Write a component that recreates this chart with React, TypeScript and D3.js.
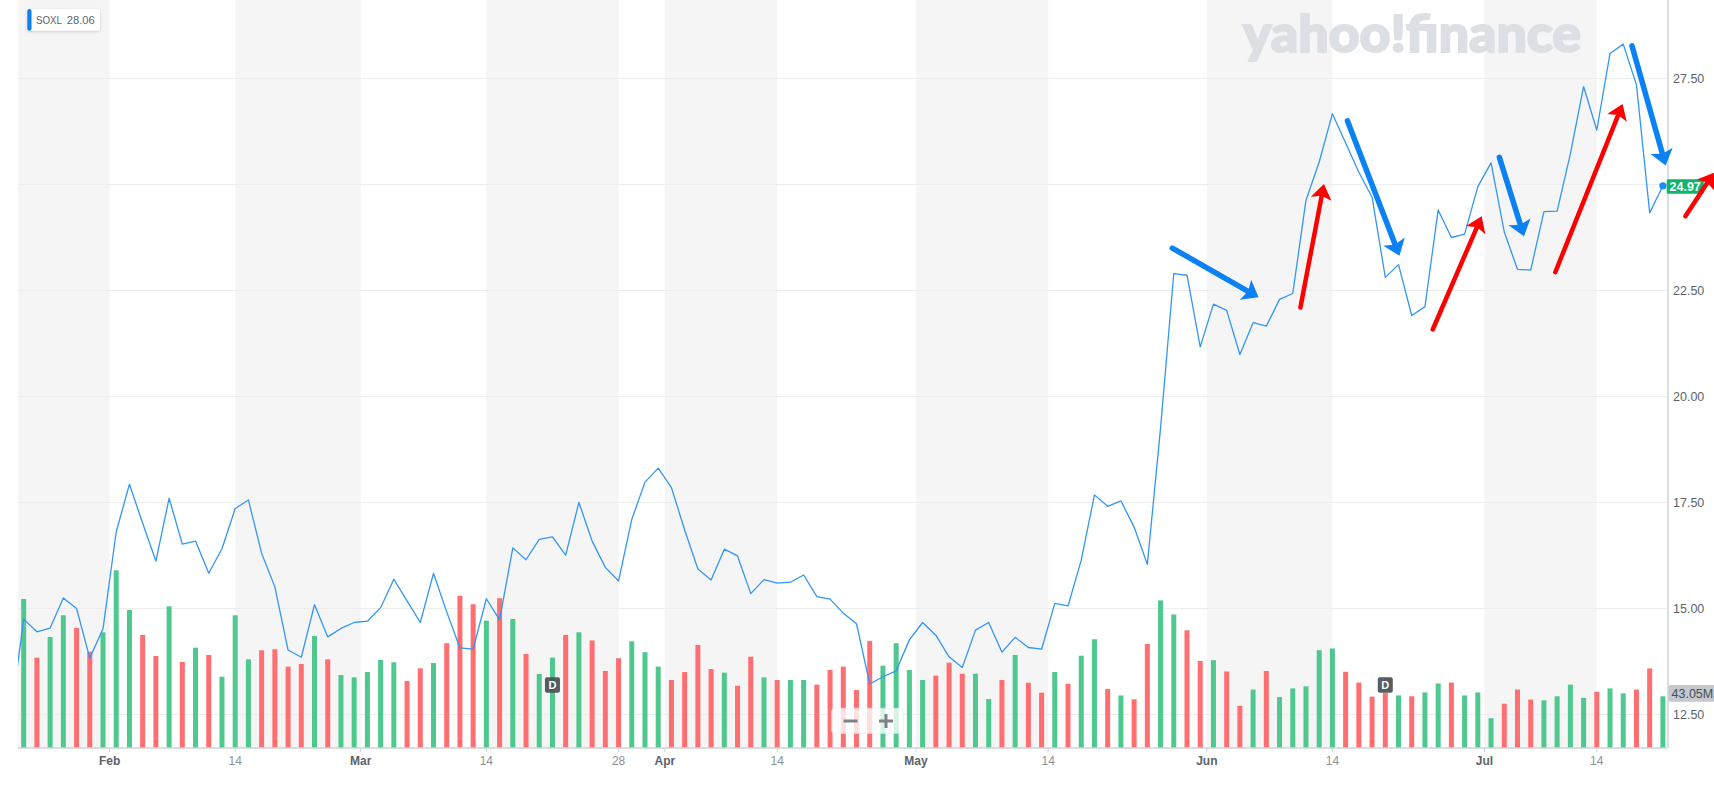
import React from "react";
import * as d3 from "d3";

// ---------- data (SOXL daily, Jan 23 – Jul 21 2023; one value per trading day) ----------
const ticker = "SOXL";
const legendValue = "28.06";
const priorClose = 12.41; // Jan 20 (left of the visible range, clipped)
const closes = [
  14.75, 14.45, 14.54, 15.25, 15.0, 13.83, 14.52, 16.81, 17.93, 17.01,
  16.12, 17.6, 16.52, 16.59, 15.83, 16.41, 17.36, 17.56, 16.3, 15.51,
  14.02, 13.85, 15.09, 14.33, 14.53, 14.67, 14.7, 15.02, 15.69, 15.18,
  14.67, 15.83, 14.92, 14.07, 14.04, 15.23, 14.73, 16.43, 16.15, 16.63,
  16.69, 16.26, 17.5, 16.59, 15.97, 15.65, 17.1, 17.98, 18.31, 17.85,
  16.85, 15.93, 15.67, 16.4, 16.24, 15.35, 15.68, 15.6, 15.62, 15.79,
  15.28, 15.22, 14.89, 14.64, 13.22, 13.39, 13.53, 14.26, 14.67, 14.37,
  13.86, 13.61, 14.49, 14.67, 13.97, 14.32, 14.08, 14.04, 15.12, 15.06,
  16.14, 17.68, 17.41, 17.54, 16.92, 16.04, 19.26, 22.9, 22.86, 21.17,
  22.18, 22.03, 20.99, 21.74, 21.66, 22.29, 22.43, 24.63, 25.53, 26.67,
  25.98, 25.29, 24.7, 22.81, 23.11, 21.91, 22.12, 24.4, 23.75, 23.83,
  24.95, 25.51, 23.88, 23.0, 22.98, 24.36, 24.37, 25.72, 27.31, 26.28,
  28.09, 28.31, 27.35, 24.33, 24.97,
];
// volume in millions
const volumes = [
  124.2, 75.3, 92.5, 110.6, 100.0, 80.3, 96.4, 148.1, 115.0, 94.2,
  76.7, 118.1, 71.7, 83.6, 77.5, 59.4, 110.6, 73.9, 81.4, 82.3,
  67.8, 70.0, 93.3, 73.9, 60.8, 58.9, 63.3, 73.3, 71.4, 55.8,
  66.4, 70.8, 87.3, 126.9, 119.8, 106.1, 124.8, 107.5, 78.3, 61.7,
  75.3, 94.2, 96.4, 89.6, 64.2, 74.8, 88.9, 79.8, 67.8, 56.7,
  63.3, 85.8, 65.8, 62.8, 51.9, 76.1, 58.9, 56.7, 56.7, 56.7,
  52.8, 65.0, 67.8, 48.3, 89.2, 68.6, 87.3, 65.0, 56.7, 60.3,
  71.1, 61.9, 61.9, 40.8, 56.7, 77.5, 54.4, 46.1, 63.3, 53.6,
  76.9, 90.6, 49.2, 43.8, 40.6, 86.7, 123.0, 111.3, 98.1, 72.5,
  73.2, 63.8, 35.2, 48.7, 64.2, 42.4, 49.7, 51.4, 81.5, 82.9,
  63.5, 54.5, 42.8, 45.8, 43.8, 43.1, 46.3, 53.8, 54.5, 43.8,
  46.3, 24.8, 36.9, 48.7, 40.3, 39.7, 43.1, 52.8, 41.8, 46.9,
  49.7, 45.5, 48.7, 66.3, 43.05,
];
const lastVolumeLabel = "43.05M";

// x-axis ticks, in trading-day index (0 = Jan 23)
const xTickLabels = ["Feb", "14", "Mar", "14", "28", "Apr", "14", "May", "14", "Jun", "14", "Jul", "14"];
const xTickIdx = [6.5, 16, 25.5, 35, 45, 48.5, 57, 67.5, 77.5, 89.5, 99, 110.5, 119];
const xTickIsMonth = [true, false, true, false, false, true, false, true, false, true, false, true, false];

const yTicks = [12.5, 15, 17.5, 20, 22.5, 25, 27.5];

// dividend markers (trading-day index)
const dividendIdx = [40, 103];

// hand-drawn annotation arrows (start / tip in [trading-day index, price])
const arrowColor = ["blue", "red", "blue", "red", "blue", "red", "blue", "red"];
const arrowFrom = [
  [86.89, 23.5], [96.58, 22.1], [100.14, 26.5], [106.59, 21.58],
  [111.63, 25.64], [115.86, 22.93], [121.66, 28.27], [125.7, 24.25],
];
const arrowTo = [
  [93.41, 22.34], [98.36, 25.01], [104.07, 23.32], [110.29, 24.25],
  [113.49, 23.78], [120.95, 26.9], [124.21, 25.45], [127.86, 25.28],
];

// ---------- component ----------
const W = 1714;
const H = 791;
const PLOT_L = 18;
const PLOT_R = 1667;
const AXIS_Y = 748;
const FONT = "'Liberation Sans', Arial, Helvetica, sans-serif";
const UP = "#4fc88f";
const DOWN = "#ff6f71";
const LINE = "#3396f4";

function arrowShape(x1: number, y1: number, x2: number, y2: number, w: number, L: number, hw: number) {
  const dx = x2 - x1;
  const dy = y2 - y1;
  const len = Math.hypot(dx, dy);
  const ux = dx / len;
  const uy = dy / len;
  const px = -uy;
  const py = ux;
  const bx = x2 - ux * L;
  const by = y2 - uy * L;
  const nx = bx + ux * L * 0.2;
  const ny = by + uy * L * 0.2;
  const head = [
    [x2, y2],
    [bx + px * hw, by + py * hw],
    [nx, ny],
    [bx - px * hw, by - py * hw],
  ];
  return {
    shaft: { x1, y1, x2: bx + ux * L * 0.4, y2: by + uy * L * 0.4, w },
    head: head.map((p) => p.join(",")).join(" "),
  };
}

export default function App() {
  const x = d3.scaleLinear().domain([-0.43, 124.31]).range([PLOT_L, PLOT_R]);
  const y = d3.scaleLinear().domain([12.5, 27.5]).range([714.5, 78.5]);
  const yv = d3.scaleLinear().domain([0, 100]).range([AXIS_Y, AXIS_Y - 120]);

  const pts: [number, number][] = [[-1, priorClose], ...closes.map((c, i) => [i, c] as [number, number])];
  const linePath = d3
    .line<[number, number]>()
    .x((d) => x(d[0]))
    .y((d) => y(d[1]))(pts) as string;

  const edges = [x.domain()[0], ...xTickIdx, x.domain()[1]];
  const bands = edges.slice(0, -1).map((e, i) => ({ x0: x(e), x1: x(edges[i + 1]), gray: i % 2 === 0 }));

  const barW = 5;
  const lastIdx = closes.length - 1;
  const lastClose = closes[lastIdx];
  const priceLabelY = y(lastClose);

  return (
    <div style={{ position: "absolute", left: 0, top: 0 }}>
      <svg width={W} height={H} style={{ display: "block", background: "#fff" }}>
        <defs>
          <clipPath id="plotClip">
            <rect x={PLOT_L} y={0} width={PLOT_R - PLOT_L} height={AXIS_Y} />
          </clipPath>
          <filter id="shadow" x="-20%" y="-40%" width="140%" height="180%">
            <feDropShadow dx="0" dy="1" stdDeviation="1.5" floodColor="#000" floodOpacity="0.18" />
          </filter>
        </defs>

        {/* alternating bands */}
        {bands.map((b, i) =>
          b.gray ? <rect key={i} x={b.x0} y={0} width={b.x1 - b.x0} height={AXIS_Y} fill="#f5f5f5" /> : null
        )}

        {/* gridlines */}
        {yTicks.map((t) => (
          <line key={t} x1={PLOT_L} x2={PLOT_R} y1={y(t)} y2={y(t)} stroke="#ededed" strokeWidth={1} />
        ))}

        {/* watermark */}
        <text
          x={1243}
          y={51.7}
          fontFamily="Lato, 'Open Sans', sans-serif"
          fontWeight={900}
          fontSize={52}
          fill="#dcdfe3"
          stroke="#dcdfe3"
          strokeWidth={2}
          textLength={338}
          lengthAdjust="spacingAndGlyphs"
        >
          yahoo!finance
        </text>

        {/* volume bars */}
        {volumes.map((v, i) => {
          const prev = i === 0 ? priorClose : closes[i - 1];
          const up = closes[i] >= prev;
          return (
            <rect
              key={i}
              x={x(i) - barW / 2}
              y={yv(v)}
              width={barW}
              height={AXIS_Y - yv(v)}
              fill={up ? UP : DOWN}
            />
          );
        })}

        {/* price line */}
        <g clipPath="url(#plotClip)">
          <path d={linePath} fill="none" stroke={LINE} strokeWidth={1.3} strokeLinejoin="round" />
        </g>
        <circle cx={x(lastIdx)} cy={priceLabelY} r={3.6} fill="#1a8cff" />

        {/* dividend markers */}
        {dividendIdx.map((d) => (
          <g key={d}>
            <rect x={x(d) - 7.5} y={677.3} width={15} height={15.4} rx={2} fill="#464e56" opacity={0.92} />
            <text
              x={x(d)}
              y={689.3}
              textAnchor="middle"
              fontFamily={FONT}
              fontWeight={700}
              fontSize={11}
              fill="#fff"
            >
              D
            </text>
          </g>
        ))}

        {/* zoom control */}
        <g>
          <rect x={831.7} y={708.3} width={71.6} height={25} rx={3} fill="#ffffff" opacity={0.78} stroke="#eceef0" />
          <line x1={843.5} x2={857.5} y1={721} y2={721} stroke="#7d8287" strokeWidth={3} />
          <line x1={867.7} x2={867.7} y1={712} y2={730} stroke="#e3e5e8" strokeWidth={1} />
          <line x1={879} x2={893} y1={721} y2={721} stroke="#7d8287" strokeWidth={3} />
          <line x1={886} x2={886} y1={714} y2={728} stroke="#7d8287" strokeWidth={3} />
        </g>

        {/* x axis */}
        <line x1={PLOT_L} x2={PLOT_R} y1={AXIS_Y} y2={AXIS_Y} stroke="#cfd3d7" strokeWidth={1.5} />
        {xTickIdx.map((t, i) => (
          <g key={i}>
            <line x1={x(t)} x2={x(t)} y1={AXIS_Y} y2={AXIS_Y + 4} stroke="#cfd3d7" strokeWidth={1} />
            <text
              x={x(t)}
              y={765}
              textAnchor="middle"
              fontFamily={FONT}
              fontSize={12}
              fontWeight={xTickIsMonth[i] ? 700 : 400}
              fill={xTickIsMonth[i] ? "#5b636a" : "#8a9299"}
            >
              {xTickLabels[i]}
            </text>
          </g>
        ))}

        {/* right axis (labels hidden where the current-price tag sits, as in the source) */}
        <line x1={PLOT_R + 1} x2={PLOT_R + 1} y1={0} y2={AXIS_Y} stroke="#dcdfe2" strokeWidth={2} />
        {yTicks
          .filter((t) => Math.abs(y(t) - priceLabelY) > 12)
          .map((t) => (
            <text key={t} x={1673} y={y(t) + 4.5} fontFamily={FONT} fontSize={12.5} fill="#5b636a">
              {t.toFixed(2)}
            </text>
          ))}

        {/* last volume label */}
        <rect x={1668.3} y={685} width={47} height={16.7} rx={2} fill="#c5c9ce" />
        <text x={1671.5} y={698} fontFamily={FONT} fontSize={12.5} fill="#464e56">
          {lastVolumeLabel}
        </text>

        {/* current price label */}
        <rect x={1666.7} y={priceLabelY - 6.5} width={37} height={14.5} rx={1.5} fill="#0fb46b" />
        <text x={1669.5} y={priceLabelY + 5} fontFamily={FONT} fontSize={12.5} fontWeight={700} fill="#fff">
          {lastClose.toFixed(2)}
        </text>

        {/* legend */}
        <g filter="url(#shadow)">
          <rect x={27.3} y={9} width={72.7} height={21.7} rx={2.5} fill="#fff" />
        </g>
        <rect x={27.3} y={9} width={4.2} height={21.7} rx={2} fill="#0a80f0" />
        <text
          x={36}
          y={24.3}
          fontFamily={FONT}
          fontSize={11}
          fill="#5b636a"
          textLength={26}
          lengthAdjust="spacingAndGlyphs"
        >
          {ticker}
        </text>
        <text
          x={66.7}
          y={24.3}
          fontFamily={FONT}
          fontSize={11}
          fill="#5b636a"
          textLength={28}
          lengthAdjust="spacingAndGlyphs"
        >
          {legendValue}
        </text>

        {/* annotation arrows */}
        {arrowFrom.map((f, i) => {
          const t = arrowTo[i];
          const blue = arrowColor[i] === "blue";
          const col = blue ? "#0a82f5" : "#ff0000";
          const a = arrowShape(x(f[0]), y(f[1]), x(t[0]), y(t[1]), blue ? 5.5 : 4.5, 15, blue ? 11.5 : 10.5);
          return (
            <g key={i}>
              <line
                x1={a.shaft.x1}
                y1={a.shaft.y1}
                x2={a.shaft.x2}
                y2={a.shaft.y2}
                stroke={col}
                strokeWidth={a.shaft.w}
                strokeLinecap="round"
              />
              <polygon points={a.head} fill={col} />
            </g>
          );
        })}
      </svg>
    </div>
  );
}
